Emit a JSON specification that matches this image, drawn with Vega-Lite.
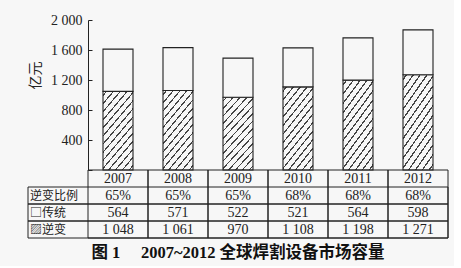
{
  "$schema": "https://vega.github.io/schema/vega-lite/v6.json",
  "background": "#f7f7f7",
  "padding": {"left": 27, "top": 13, "right": 5, "bottom": 5},
  "config": {
    "locale": {"number": {"decimal": ".", "thousands": " ", "grouping": [3], "currency": ["", ""]}},
    "view": {"stroke": null},
    "font": "Liberation Serif"
  },
  "datasets": {
    "d": [
      {"year": "2007", "逆变": 1048, "传统": 564, "比例": 0.65},
      {"year": "2008", "逆变": 1061, "传统": 571, "比例": 0.65},
      {"year": "2009", "逆变": 970, "传统": 522, "比例": 0.65},
      {"year": "2010", "逆变": 1108, "传统": 521, "比例": 0.68},
      {"year": "2011", "逆变": 1198, "传统": 564, "比例": 0.68},
      {"year": "2012", "逆变": 1271, "传统": 598, "比例": 0.68}
    ],
    "rows": [
      {"r": "逆变比例", "label": "逆变比例"},
      {"r": "传统", "label": "□传统"},
      {"r": "逆变", "label": "▨逆变"}
    ]
  },
  "title": {
    "text": "图 1\u2003 2007~2012 全球焊割设备市场容量",
    "orient": "bottom",
    "anchor": "middle",
    "fontSize": 16.5,
    "fontWeight": "bold",
    "font": "Liberation Serif, Noto Sans CJK SC",
    "color": "#111",
    "offset": 6
  },
  "spacing": 0,
  "bounds": "flush",
  "vconcat": [
    {
      "width": 420,
      "height": 150,
      "data": {"name": "d"},
      "transform": [{"fold": ["逆变", "传统"], "as": ["key", "value"]}],
      "mark": {"type": "bar", "width": {"band": 0.5}, "stroke": "#222", "strokeWidth": 1.1},
      "encoding": {
        "x": {
          "field": "year", "type": "nominal",
          "scale": {"type": "band", "domain": ["项目", "2007", "2008", "2009", "2010", "2011", "2012"], "paddingInner": 0, "paddingOuter": 0},
          "axis": null
        },
        "y": {
          "field": "value", "type": "quantitative", "stack": "zero",
          "scale": {"domain": [0, 2000], "nice": false},
          "axis": {
            "values": [0, 400, 800, 1200, 1600, 2000],
            "labelExpr": "datum.value === 0 ? '' : format(datum.value, ',')",
            "grid": false,
            "offset": -60,
            "title": "亿元",
            "titleX": -53,
            "titleY": 55,
            "titleAngle": -90,
            "titleAlign": "center",
            "titleBaseline": "middle",
            "titleFont": "Noto Sans CJK SC",
            "titleFontSize": 14,
            "titleFontWeight": "normal",
            "titleColor": "#222",
            "labelFont": "Liberation Serif",
            "labelFontSize": 14,
            "labelColor": "#222",
            "domainColor": "#222",
            "tickColor": "#222",
            "tickSize": -4,
            "labelPadding": 10
          }
        },
        "detail": {"field": "key"},
        "order": {"field": "key", "sort": "descending"},
        "fill": {
          "condition": {
            "test": "datum.key === '逆变'",
            "value": {
              "gradient": "linear", "x1": 0, "y1": 0, "x2": 0.54, "y2": 1.2,
              "stops": [
                {"offset": 0, "color": "#f7f7f7"},
                {"offset": 0.0286, "color": "#f7f7f7"}, {"offset": 0.0286, "color": "#444"}, {"offset": 0.0443, "color": "#444"}, {"offset": 0.0443, "color": "#f7f7f7"},
                {"offset": 0.1000, "color": "#f7f7f7"}, {"offset": 0.1000, "color": "#444"}, {"offset": 0.1157, "color": "#444"}, {"offset": 0.1157, "color": "#f7f7f7"},
                {"offset": 0.1714, "color": "#f7f7f7"}, {"offset": 0.1714, "color": "#444"}, {"offset": 0.1871, "color": "#444"}, {"offset": 0.1871, "color": "#f7f7f7"},
                {"offset": 0.2429, "color": "#f7f7f7"}, {"offset": 0.2429, "color": "#444"}, {"offset": 0.2586, "color": "#444"}, {"offset": 0.2586, "color": "#f7f7f7"},
                {"offset": 0.3143, "color": "#f7f7f7"}, {"offset": 0.3143, "color": "#444"}, {"offset": 0.3300, "color": "#444"}, {"offset": 0.3300, "color": "#f7f7f7"},
                {"offset": 0.3857, "color": "#f7f7f7"}, {"offset": 0.3857, "color": "#444"}, {"offset": 0.4014, "color": "#444"}, {"offset": 0.4014, "color": "#f7f7f7"},
                {"offset": 0.4571, "color": "#f7f7f7"}, {"offset": 0.4571, "color": "#444"}, {"offset": 0.4729, "color": "#444"}, {"offset": 0.4729, "color": "#f7f7f7"},
                {"offset": 0.5286, "color": "#f7f7f7"}, {"offset": 0.5286, "color": "#444"}, {"offset": 0.5443, "color": "#444"}, {"offset": 0.5443, "color": "#f7f7f7"},
                {"offset": 0.6000, "color": "#f7f7f7"}, {"offset": 0.6000, "color": "#444"}, {"offset": 0.6157, "color": "#444"}, {"offset": 0.6157, "color": "#f7f7f7"},
                {"offset": 0.6714, "color": "#f7f7f7"}, {"offset": 0.6714, "color": "#444"}, {"offset": 0.6871, "color": "#444"}, {"offset": 0.6871, "color": "#f7f7f7"},
                {"offset": 0.7429, "color": "#f7f7f7"}, {"offset": 0.7429, "color": "#444"}, {"offset": 0.7586, "color": "#444"}, {"offset": 0.7586, "color": "#f7f7f7"},
                {"offset": 0.8143, "color": "#f7f7f7"}, {"offset": 0.8143, "color": "#444"}, {"offset": 0.8300, "color": "#444"}, {"offset": 0.8300, "color": "#f7f7f7"},
                {"offset": 0.8857, "color": "#f7f7f7"}, {"offset": 0.8857, "color": "#444"}, {"offset": 0.9014, "color": "#444"}, {"offset": 0.9014, "color": "#f7f7f7"},
                {"offset": 0.9571, "color": "#f7f7f7"}, {"offset": 0.9571, "color": "#444"}, {"offset": 0.9729, "color": "#444"}, {"offset": 0.9729, "color": "#f7f7f7"},
                {"offset": 1, "color": "#f7f7f7"}
              ]
            }
          },
          "value": "#f7f7f7"
        }
      }
    },
    {
      "width": 420,
      "height": 68,
      "layer": [
        {
          "data": {"name": "d"},
          "mark": {"type": "rect", "fill": null, "stroke": "#222", "strokeWidth": 1},
          "encoding": {
            "x": {"field": "year", "type": "nominal", "scale": {"type": "band", "domain": ["项目", "2007", "2008", "2009", "2010", "2011", "2012"], "paddingInner": 0, "paddingOuter": 0}, "axis": null}
          }
        },
        {
          "data": {"name": "rows"},
          "mark": {"type": "rect", "fill": null, "stroke": "#222", "strokeWidth": 1},
          "encoding": {
            "y": {"field": "r", "type": "nominal", "scale": {"type": "band", "domain": ["年份", "逆变比例", "传统", "逆变"], "paddingInner": 0, "paddingOuter": 0}, "axis": null}
          }
        },
        {
          "data": {"name": "d"},
          "mark": {"type": "text", "fontSize": 14, "font": "Liberation Serif", "color": "#222", "baseline": "middle"},
          "encoding": {
            "x": {"field": "year", "type": "nominal", "scale": {"type": "band", "domain": ["项目", "2007", "2008", "2009", "2010", "2011", "2012"], "paddingInner": 0, "paddingOuter": 0}, "axis": null},
            "y": {"datum": "年份", "type": "nominal", "scale": {"type": "band", "domain": ["年份", "逆变比例", "传统", "逆变"], "paddingInner": 0, "paddingOuter": 0}, "axis": null},
            "text": {"field": "year"}
          }
        },
        {
          "data": {"name": "d"},
          "mark": {"type": "text", "fontSize": 14, "font": "Liberation Serif", "color": "#222", "baseline": "middle"},
          "encoding": {
            "x": {"field": "year", "type": "nominal", "axis": null},
            "y": {"datum": "逆变比例", "type": "nominal", "axis": null},
            "text": {"field": "比例", "type": "quantitative", "format": ".0%"}
          }
        },
        {
          "data": {"name": "d"},
          "mark": {"type": "text", "fontSize": 14, "font": "Liberation Serif", "color": "#222", "baseline": "middle"},
          "encoding": {
            "x": {"field": "year", "type": "nominal", "axis": null},
            "y": {"datum": "传统", "type": "nominal", "axis": null},
            "text": {"field": "传统", "type": "quantitative", "format": ","}
          }
        },
        {
          "data": {"name": "d"},
          "mark": {"type": "text", "fontSize": 14, "font": "Liberation Serif", "color": "#222", "baseline": "middle"},
          "encoding": {
            "x": {"field": "year", "type": "nominal", "axis": null},
            "y": {"datum": "逆变", "type": "nominal", "axis": null},
            "text": {"field": "逆变", "type": "quantitative", "format": ","}
          }
        },
        {
          "data": {"name": "rows"},
          "mark": {"type": "text", "fontSize": 12, "font": "Noto Sans CJK SC", "color": "#222", "baseline": "middle", "align": "left", "dx": -28},
          "encoding": {
            "x": {"datum": "项目", "type": "nominal", "axis": null},
            "y": {"field": "r", "type": "nominal", "axis": null},
            "text": {"field": "label"}
          }
        }
      ]
    }
  ]
}
